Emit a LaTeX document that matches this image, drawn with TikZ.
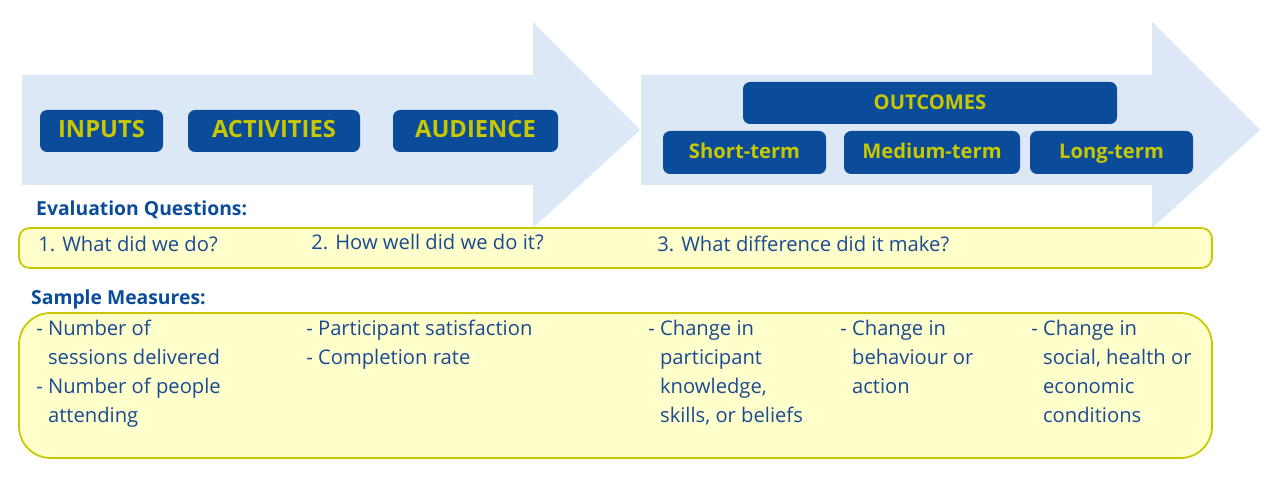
\documentclass[tikz,border=0pt]{standalone}
\usepackage{fontspec}
\setmainfont{Open Sans}
\definecolor{arrowblue}{HTML}{DCE8F5}
\definecolor{boxblue}{HTML}{0A4C9A}
\definecolor{labelyellow}{HTML}{C9C800}
\definecolor{textblue}{HTML}{1A4A94}
\definecolor{paleyellow}{HTML}{FFFFCC}
\tikzset{
  stage/.style={fill=boxblue, rounded corners=4pt, text=labelyellow, text height=1.6ex, text depth=.3ex, font=\bfseries\fontsize{13.5}{15}\selectfont},
  substage/.style={fill=boxblue, rounded corners=4pt, text=labelyellow, text height=1.6ex, text depth=.3ex, font=\bfseries\fontsize{11.5}{13}\selectfont},
  heading/.style={anchor=west, text=boxblue, font=\bfseries\fontsize{11}{13}\selectfont},
  item/.style={anchor=north west, text=textblue, align=left, inner sep=0pt, font=\fontsize{11.5}{16.4}\selectfont},
  band/.style={draw=labelyellow, fill=paleyellow, line width=1pt}
}
\begin{document}
\begin{tikzpicture}[x=0.02cm,y=-0.02cm]
        \useasboundingbox (0,0) rectangle (1280,502);
        % big arrows
        \fill[arrowblue] (22,75)--(533,75)--(533,22)--(640,130)--(533,228)--(533,185)--(22,185)--cycle;
        \fill[arrowblue] (641,75)--(1152,75)--(1152,22)--(1260,130)--(1152,228)--(1152,185)--(641,185)--cycle;

        \path[stage] (40,110) rectangle (163,152) node[pos=.5] (inputs) {INPUTS};
        \path[stage] (188,110) rectangle (360,152) node[pos=.5] (activities) {ACTIVITIES};
        \path[stage] (393,110) rectangle (558,152) node[pos=.5] (audience) {AUDIENCE};
        \path[substage] (743,82) rectangle (1117,124) node[pos=.5] (outcomes) {OUTCOMES};
        \path[substage] (663,131) rectangle (826,174) node[pos=.5] (short) {Short-term};
        \path[substage] (844,131) rectangle (1020,174) node[pos=.5] (medium) {Medium-term};
        \path[substage] (1030,131) rectangle (1193,174) node[pos=.5] (long) {Long-term};

        % questions
        \node[heading] (evalq) at (30,210) {Evaluation Questions:};
        \draw[band, rounded corners=6pt] (19,228) rectangle (1212,268);
        \node[item] (q1) at (38,236) {1. What did we do?};
        \node[item] (q2) at (311,234) {2. How well did we do it?};
        \node[item] (q3) at (657,236) {3. What difference did it make?};

        % measures
        \node[heading] (sample) at (25,299) {Sample Measures:};
        \draw[band, rounded corners=18pt] (19,313) rectangle (1212,458);
        \node[item] (m1) at (36,320) {- Number of\\\phantom{- }sessions delivered\\- Number of people\\\phantom{- }attending};
        \node[item] (m2) at (306,320) {- Participant satisfaction\\- Completion rate};
        \node[item] (m3) at (648,320) {- Change in\\\phantom{- }participant\\\phantom{- }knowledge,\\\phantom{- }skills, or beliefs};
        \node[item] (m4) at (840,320) {- Change in\\\phantom{- }behaviour or\\\phantom{- }action};
        \node[item] (m5) at (1031,320) {- Change in\\\phantom{- }social, health or\\\phantom{- }economic\\\phantom{- }conditions};
\end{tikzpicture}
\end{document}
